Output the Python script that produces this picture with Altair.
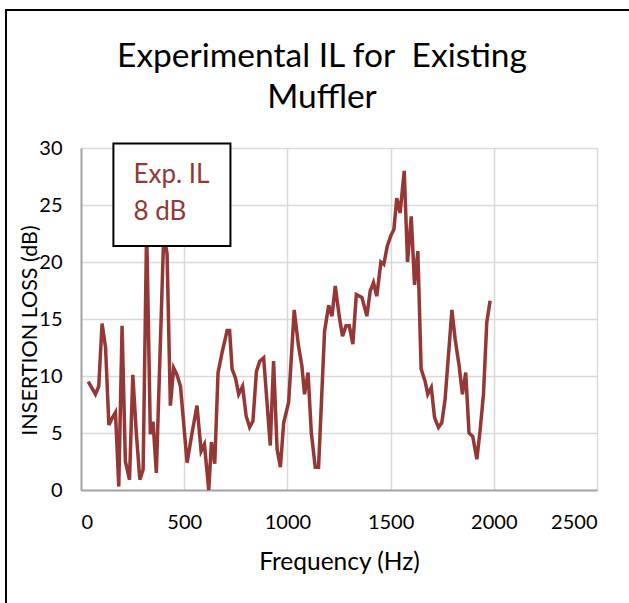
import altair as alt
import pandas as pd

freq = [35, 70, 86, 102, 119, 135, 151, 167, 183, 199, 215, 235, 251, 268, 285, 301, 318,
        336, 349, 365, 401, 417, 433, 449, 465, 482, 514, 538, 562, 582, 598, 619, 632,
        648, 664, 683, 708, 720, 732, 748, 764, 783, 800, 817, 833, 850, 866, 885, 917,
        933, 950, 966, 982, 1006, 1033, 1054, 1070, 1083, 1100, 1116, 1135, 1151, 1180,
        1200, 1216, 1232, 1251, 1267, 1284, 1300, 1317, 1334, 1361, 1385, 1401, 1417,
        1433, 1453, 1467, 1484, 1503, 1516, 1530, 1546, 1566, 1582, 1600, 1616, 1632,
        1648, 1667, 1680, 1697, 1713, 1732, 1748, 1764, 1780, 1797, 1813, 1832, 1848,
        1864, 1880, 1898, 1918, 1934, 1950, 1966, 1982]
il = [9.5, 8.4, 9.1, 14.6, 12.5, 5.7, 6.3, 6.8, 0.3, 14.4, 2.5, 0.9, 10.1, 5.0, 0.9, 1.8, 23.0,
      4.9, 6.0, 1.5, 22.5, 20.7, 7.4, 10.7, 10.1, 9.1, 2.4, 5.0, 7.4, 3.4, 4.0, 0.0, 4.2,
      2.3, 10.3, 12.0, 14.0, 14.0, 10.6, 9.85, 8.4, 9.1, 6.5, 5.5, 6.05, 10.4, 11.3, 11.6, 3.9,
      11.3, 3.6, 2.0, 5.9, 7.7, 15.8, 12.6, 10.9, 8.4, 10.3, 5.0, 2.0, 2.0, 13.9,
      16.2, 15.25, 17.9, 15.25, 13.5, 14.4, 14.4, 12.8, 17.15, 16.9, 15.25, 17.45, 18.2,
      17.0, 20.0, 19.8, 21.4, 22.4, 22.85, 25.6, 24.3, 28.0, 20.0, 24.0, 18.0, 20.95,
      10.6, 9.55, 8.4, 9.0, 6.35, 5.5, 5.9, 7.95, 11.75, 15.8, 13.2, 10.9, 8.4,
      10.3, 5.0, 4.7, 2.7, 5.3, 8.4, 14.7, 16.6]

x_ticks = [0, 500, 1000, 1500, 2000, 2500]
y_ticks = [0, 5, 10, 15, 20, 25, 30]
note_lines = ["Exp. IL", "8 dB"]
title_lines = ["Experimental IL for\u00a0 Existing", "Muffler"]

df = pd.DataFrame({"freq": freq, "il": il})

FONT = "Lato"
RED = "#953735"

x_enc = alt.X("freq:Q", scale=alt.Scale(domain=[0, 2500], nice=False),
              axis=alt.Axis(values=x_ticks, format="d", title="Frequency (Hz)", grid=True,
                            labelFontSize=20, titleFontSize=24.5, labelFont=FONT, titleFont=FONT,
                            labelColor="black", titleColor="black", titleFontWeight="normal",
                            labelPadding=22, titlePadding=18, ticks=False,
                            domainColor="#a6a6a6", domainWidth=2,
                            gridColor="#d9d9d9", gridWidth=1.5))
y_enc = alt.Y("il:Q", scale=alt.Scale(domain=[0, 30], nice=False),
              axis=alt.Axis(values=y_ticks, format="d", title="INSERTION LOSS (dB)", grid=True,
                            labelFontSize=20, titleFontSize=21.5, labelFont=FONT, titleFont=FONT,
                            labelColor="black", titleColor="black", titleFontWeight="normal",
                            labelPadding=19, titlePadding=-3, ticks=False,
                            titleY=182, titleAnchor="middle",
                            domainColor="#a6a6a6", domainWidth=2,
                            gridColor="#d9d9d9", gridWidth=1.5))

line = alt.Chart(df).mark_line(color=RED, strokeWidth=3.5, clip=False).encode(x=x_enc, y=y_enc)

box_df = pd.DataFrame({"x1": [157], "x2": [724], "y1": [21.4], "y2": [30.4]})
box = alt.Chart(box_df).mark_rect(fill="white", stroke="black", strokeWidth=2, clip=False).encode(
    x="x1:Q", x2="x2:Q", y="y1:Q", y2="y2:Q")

note_df = pd.DataFrame({"x": [254, 254], "y": [27.6, 24.4], "t": note_lines})
note = alt.Chart(note_df).mark_text(align="left", baseline="middle", font=FONT, fontSize=26,
                                    color=RED).encode(x="x:Q", y="y:Q", text="t:N")

frame = alt.Chart(pd.DataFrame({"a": [0]})).mark_rect(
    fill=None, stroke="black", strokeWidth=2, clip=False).encode(
    x=alt.value(-75), x2=alt.value(560), y=alt.value(-138), y2=alt.value(480))

title1 = alt.Chart(pd.DataFrame({"t": [title_lines[0]]})).mark_text(
    align="center", baseline="middle", font=FONT, fontSize=33.5, color="black").encode(
    text="t:N", x=alt.value(241), y=alt.value(-91))
title2 = alt.Chart(pd.DataFrame({"t": [title_lines[1]]})).mark_text(
    align="center", baseline="middle", font=FONT, fontSize=33.5, color="black").encode(
    text="t:N", x=alt.value(241), y=alt.value(-50))

chart = alt.layer(frame, line, box, note, title1, title2).properties(
    width=516, height=342,
    padding={"left": 81, "top": 148, "right": 32, "bottom": 113},
    autosize=alt.AutoSizeParams(type="none"),
).configure_view(stroke="black", strokeWidth=2).configure(background="white")

chart.save("out.html", embed_options={"renderer": "svg", "actions": False})
